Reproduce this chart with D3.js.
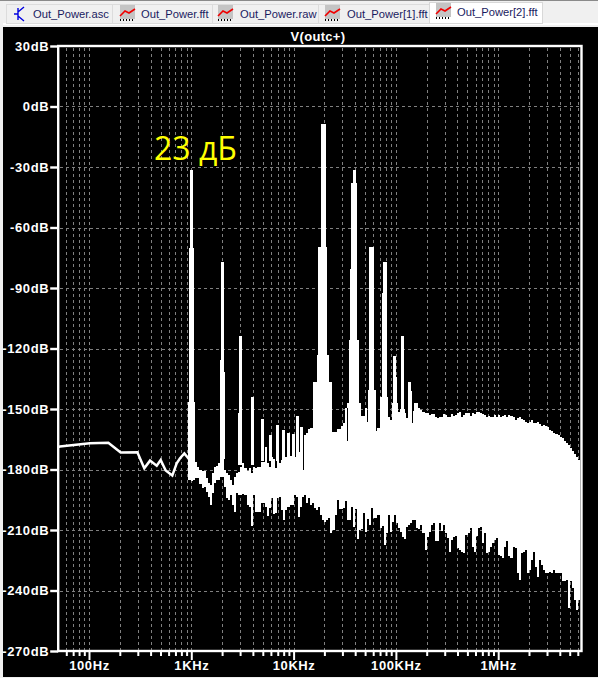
<!DOCTYPE html>
<html><head><meta charset="utf-8">
<script src="https://cdnjs.cloudflare.com/ajax/libs/d3/7.8.5/d3.min.js"></script>
<style>html,body{margin:0;padding:0;background:#f0f0f0;overflow:hidden}svg{display:block}</style>
</head><body><svg id="c" width="598" height="678"></svg>
<script>
// ---- chart data ----
const tabLabels = ["Out_Power.asc","Out_Power.fft","Out_Power.raw","Out_Power[1].fft","Out_Power[2].fft"];
const traceTitle = "V(outc+)";
const noteText = "23 дБ";
const dbTicks = [30,0,-30,-60,-90,-120,-150,-180,-210,-240,-270];
const hzMajor = [100,1000,10000,100000,1000000];
const hzMajorLabels = ["100Hz","1KHz","10KHz","100KHz","1MHz"];
const hzMinor = [60,70,80,90,200,300,400,500,600,700,800,900,2000,3000,4000,5000,6000,7000,8000,9000,20000,30000,40000,50000,60000,70000,80000,90000,200000,300000,400000,500000,600000,700000,800000,900000,2000000,3000000,4000000,5000000,6000000];
const freqDomain = [50,6520000];
const dbDomain = [30,-270];

// low-frequency single trace
const lowHz = [50,52,102,154.5,204,297,347,395,459,502,562,652,720,776,855,935,985];
const lowDb = [-168.8,-168.6,-167,-166.7,-171.6,-171.5,-179.4,-175.6,-178.1,-175.3,-180.5,-183,-176.9,-174.4,-172,-174.4,-176];

// noise band: one value per 0.02-decade bin, starting at 1 kHz
const noiseTop = [-172,-175.3,-176.1,-178.6,-180.2,-180.6,-180.6,-184.4,-186.8,-187.7,
-181.9,-178.9,-178.2,-176.6,-174.9,-175,-180.2,-181.9,-182.7,-185.2,
-187.7,-183.5,-181.9,-181,-178.9,-176.9,-179.4,-180.6,-179.4,-181.9,
-178.6,-179.4,-178.9,-178.6,-176.1,-176.1,-168.7,-176.9,-178.9,-173.6,
-174.9,-179.4,-172.8,-176.9,-175.3,-175.3,-173.6,-175.3,-173.3,-174.5,
-173.6,-172.8,-171.1,-174.5,-172.8,-163,-161.8,-160,-159.6,-159.6,
-150,-150,-150,-150,-150,-150,-150,-150,-150,-161.4,
-161.6,-160.1,-160.1,-158.5,-157,-149.7,-149.7,-150,-150,-150,
-150,-150,-153.5,-153.5,-153.5,-149.7,-156.3,-156,-156,-156,
-159,-159.6,-155,-153.8,-154,-154,-154,-155.5,-155.5,-155.5,
-155.5,-151.3,-152,-152,-152,-154.6,-154.6,-154,-151,-150,
-150,-149.6,-150.5,-151.3,-151.8,-152.1,-152.9,-152.4,-152.6,-153.8,
-154.6,-153.8,-154.1,-152.4,-152.9,-154.1,-153.8,-152.4,-153.4,-152.9,
-151.8,-151.3,-154.1,-152.9,-152.1,-151.8,-153.4,-152.1,-152.4,-151.5,
-151.3,-151.8,-152.4,-152.9,-153.8,-153.4,-154.1,-153.8,-153.1,-153.8,
-153.1,-154.1,-153.4,-153.1,-153.8,-152.8,-153.4,-153.8,-155.4,-154.6,
-154.1,-155.1,-155.7,-156.2,-156.7,-156.4,-155.7,-156.7,-157,-156.4,
-157.4,-158.4,-158.1,-158.4,-158.7,-160.4,-160.7,-161.7,-162.4,-163,
-164,-164.5,-165.7,-166.7,-167.8,-169.5,-170.8,-172.3,-173.9,-175.3,-176.1];

const noiseBottom = [-185.5,-185.2,-184.4,-184.4,-187.2,-189.3,-188.5,-191,-193.5,-197.6,
-191.8,-186.8,-185.2,-185.2,-183.5,-183.5,-188.5,-194.3,-195.1,-192.6,
-197.6,-200.9,-191.8,-192.6,-192.6,-192.1,-192.6,-197.6,-198.4,-208,
-192.6,-200.9,-201.2,-201.2,-196.8,-196.8,-198.4,-203,-199.2,-194.3,
-202,-201.7,-194.3,-193.5,-200,-205,-200,-198.4,-197.6,-197.6,
-192.6,-193.5,-203.4,-198.4,-193.5,-192.6,-196.7,-194.3,-197.6,-196.7,
-199.2,-200,-198.4,-202.5,-205,-205.8,-205,-204.2,-211.6,-210,
-202.5,-195.1,-199.7,-199.7,-199.2,-195.4,-205,-205,-198.7,-208.3,
-199.7,-214.6,-210,-209.6,-201.7,-210.8,-204.7,-207.5,-199.2,-204.2,
-204.2,-202.5,-209.1,-208,-217.4,-211.6,-202.5,-210.8,-205.8,-202.5,
-206.6,-209.1,-210.8,-213.3,-214.6,-208.6,-207.5,-206.3,-205,-205,
-209.1,-209.6,-207.5,-211.6,-219.9,-213.3,-210.8,-207.5,-206.3,-215.7,
-215.7,-206.3,-210.7,-207.4,-211.6,-214,-220.7,-214.9,-213.6,-213.2,
-219,-219.8,-220.7,-221.5,-212.4,-211.6,-209.1,-218.2,-220.7,-213.2,
-209.1,-208.3,-216.5,-211.6,-221.5,-220.7,-218.2,-216.5,-214.9,-214,
-222.3,-223.1,-224,-218.2,-215.7,-223.1,-224,-218.5,-219,-231.4,
-234.7,-221.5,-220.7,-219.8,-231.4,-229.8,-224.8,-220.7,-228.1,-233.1,
-224.8,-227.3,-229.8,-231.4,-231.4,-230.6,-231.4,-229.8,-231.4,-231.4,
-231.4,-235.5,-235.5,-234.7,-248.8,-235.5,-238.8,-244.6,-249.6,-244.6,-243.8];

// harmonic spikes: each tier is one FFT-leakage step of a peak
const tierLowHz  = [970,949,922, 1938,1908,1908, 2912,2861, 3833, 4799, 5747, 6774, 7752, 8621, 9712, 10556, 11550,
  18530,17430,16820,15590, 38330,36400,35590,34800,33040, 54950,53730, 74300,73130,69930, 93700,93700,91600, 111400,109700, 132200,132200, 150300];
const tierHighHz = [1039,1056,1080, 2087,2087,2135, 3116,3150, 4102, 5172, 6109, 7200, 8240, 9161, 10320, 11293, 12270,
  20510,21360,22340,23570, 40460,41390,41950,43870,45290, 61510,63460, 81300,81850,84290, 100230,102500,105500, 120800,123600, 140500,143700, 163300];
const tierTopDb  = [-31.5,-70.3,-146.4, -77,-125.7,-131.5, -113.6,-152, -143.9, -155, -163, -158, -160.4, -162, -162.4, -153.3, -158.7,
  -8.8,-69.8,-123,-136.4, -31.5,-37.9,-80.6,-115.8,-147, -69.8,-140.5, -77,-92.6,-143.9, -123.5,-134,-147, -113.6,-150, -136.4,-141.3, -146.9];
const tierBaseDb = [-185,-185,-185, -175,-175,-175, -178,-178, -178, -176, -176, -176, -176, -176, -176, -176, -176,
  -170,-170,-170,-170, -170,-170,-170,-170,-170, -170,-170, -170,-170,-170, -170,-170,-170, -170,-170, -170,-170, -170];

// one-bin dropouts that cut through the top of the band
const notchHz  = [12400,33650,65350,144600];
const notchTop = [-163,-149.7,-150,-147];
const notchBot = [-180.2,-165.7,-161,-157];

// ---- drawing ----
const svg = d3.select("#c");
const x = d3.scaleLog().domain(freqDomain).range([58.2,581.5]);
const y = d3.scaleLinear().domain(dbDomain).range([46,651]);
const FONT = "'Liberation Sans',Arial,sans-serif";

// window chrome
svg.append("rect").attr("width",598).attr("height",678).attr("fill","#f0f0f0");
svg.append("rect").attr("x",0).attr("y",0).attr("width",598).attr("height",1).attr("fill","#8a8a8a");
svg.append("rect").attr("x",3).attr("y",27).attr("width",595).attr("height",650).attr("fill","#000");
svg.append("rect").attr("x",3).attr("y",23).attr("width",595).attr("height",2).attr("fill","#fff");

const tabEdges = [[6,112],[112,212],[212,318],[318,429],[429,542]];
const iconX = [14,120,218,325,436];
const textX = [33,141,240,347,457];
tabLabels.forEach((t,i)=>{
  const active = i===4, top = active?2:4;
  svg.append("rect").attr("x",tabEdges[i][0]).attr("y",top).attr("width",tabEdges[i][1]-tabEdges[i][0]).attr("height",23-top)
    .attr("fill",active?"#fff":"#f0f0f0").attr("stroke",active?"#d8d8d8":"#dcdcdc").attr("shape-rendering","crispEdges");
  const g = svg.append("g").attr("transform",`translate(${iconX[i]},${active?3:5})`);
  if(i===0){
    g.append("path").attr("d","M0 9H4M4 3V15M4 7L10 2M4 11L10 16").attr("stroke","#0000e0").attr("stroke-width",1.4).attr("fill","none");
  } else {
    g.append("rect").attr("width",15).attr("height",14).attr("fill","#c4c4c4");
    g.append("path").attr("d","M0 11L5 6L9 8L15 4").attr("stroke","#f00000").attr("stroke-width",1.6).attr("fill","none");
    g.append("path").attr("d","M0 15H15").attr("stroke","#000").attr("stroke-width",2).attr("stroke-dasharray","1 2");
  }
  svg.append("text").attr("x",textX[i]).attr("y",active?16:18).text(t)
    .attr("font-family",FONT).attr("font-size",11.2).attr("fill","#1a1a60");
});

// grid
const grid = svg.append("g").attr("stroke","#808080").attr("stroke-dasharray","3 3").attr("shape-rendering","crispEdges").attr("stroke-width",1);
dbTicks.slice(1,-1).forEach(d=>grid.append("line").attr("x1",60).attr("x2",580).attr("y1",Math.round(y(d))+.5).attr("y2",Math.round(y(d))+.5));
hzMajor.concat(hzMinor).forEach(f=>grid.append("line").attr("x1",Math.round(x(f))+.5).attr("x2",Math.round(x(f))+.5).attr("y1",48).attr("y2",650));

// trace
const traceG = svg.append("g").attr("fill","#fff").attr("shape-rendering","crispEdges");
const noiseHz = noiseTop.map((_,k)=>1000*Math.pow(10,k*0.02));
const area = d3.area().curve(d3.curveStepAfter)
  .x((d,i)=>x(noiseHz[i])).y0((d,i)=>y(noiseBottom[i])).y1(d=>y(d));
traceG.append("path").datum(noiseTop).attr("d",area);
tierLowHz.forEach((f,i)=>{
  traceG.append("rect").attr("x",x(f)).attr("width",x(tierHighHz[i])-x(f))
    .attr("y",y(tierTopDb[i])).attr("height",y(tierBaseDb[i])-y(tierTopDb[i]));
});
notchHz.forEach((f,i)=>{
  svg.append("line").attr("x1",x(f)).attr("x2",x(f)).attr("y1",y(notchTop[i])).attr("y2",y(notchBot[i]))
    .attr("stroke","#000").attr("stroke-width",1).attr("shape-rendering","crispEdges");
});
svg.append("path").datum(lowHz)
  .attr("d",d3.line().x(d=>x(d)).y((d,i)=>y(lowDb[i])))
  .attr("fill","none").attr("stroke","#fff").attr("stroke-width",2.5);

// frame
svg.append("rect").attr("x",x(freqDomain[0])).attr("y",y(30)).attr("width",x(freqDomain[1])-x(freqDomain[0])).attr("height",y(-270)-y(30))
  .attr("fill","none").attr("stroke","#fff").attr("stroke-width",2.4);

// axes
const yAxis = d3.axisLeft(y).tickValues(dbTicks).tickFormat(d=>d+"dB").tickSize(8).tickPadding(1);
const gy = svg.append("g").attr("transform",`translate(${x(freqDomain[0])},0)`).call(yAxis);
gy.select(".domain").remove();
gy.selectAll("line").attr("stroke","#fff").attr("stroke-width",2.4);
gy.selectAll("text").attr("fill","#fff").attr("font-family",FONT).attr("font-weight","bold").attr("font-size",13).attr("letter-spacing",0.6);

const xMinor = d3.axisBottom(x).tickValues(hzMinor).tickFormat("").tickSize(5);
const gx1 = svg.append("g").attr("transform",`translate(0,${y(-270)})`).call(xMinor);
gx1.select(".domain").remove();
gx1.selectAll("line").attr("stroke","#fff").attr("stroke-width",2);
const xMajor = d3.axisBottom(x).tickValues(hzMajor).tickFormat((d,i)=>hzMajorLabels[i]).tickSize(9).tickPadding(1);
const gx2 = svg.append("g").attr("transform",`translate(0,${y(-270)})`).call(xMajor);
gx2.select(".domain").remove();
gx2.selectAll("line").attr("stroke","#fff").attr("stroke-width",2);
gx2.selectAll("text").attr("fill","#fff").attr("font-family",FONT).attr("font-weight","bold").attr("font-size",13).attr("letter-spacing",0.6);

// title and annotation
svg.append("text").attr("x",318).attr("y",41).attr("text-anchor","middle").text(traceTitle)
  .attr("fill","#fff").attr("font-family",FONT).attr("font-weight","bold").attr("font-size",13).attr("letter-spacing",0.3);
svg.append("text").attr("x",154).attr("y",160).text(noteText)
  .attr("fill","#ffff00").attr("font-family","'Open Sans',sans-serif").attr("font-size",32);
</script></body></html>
